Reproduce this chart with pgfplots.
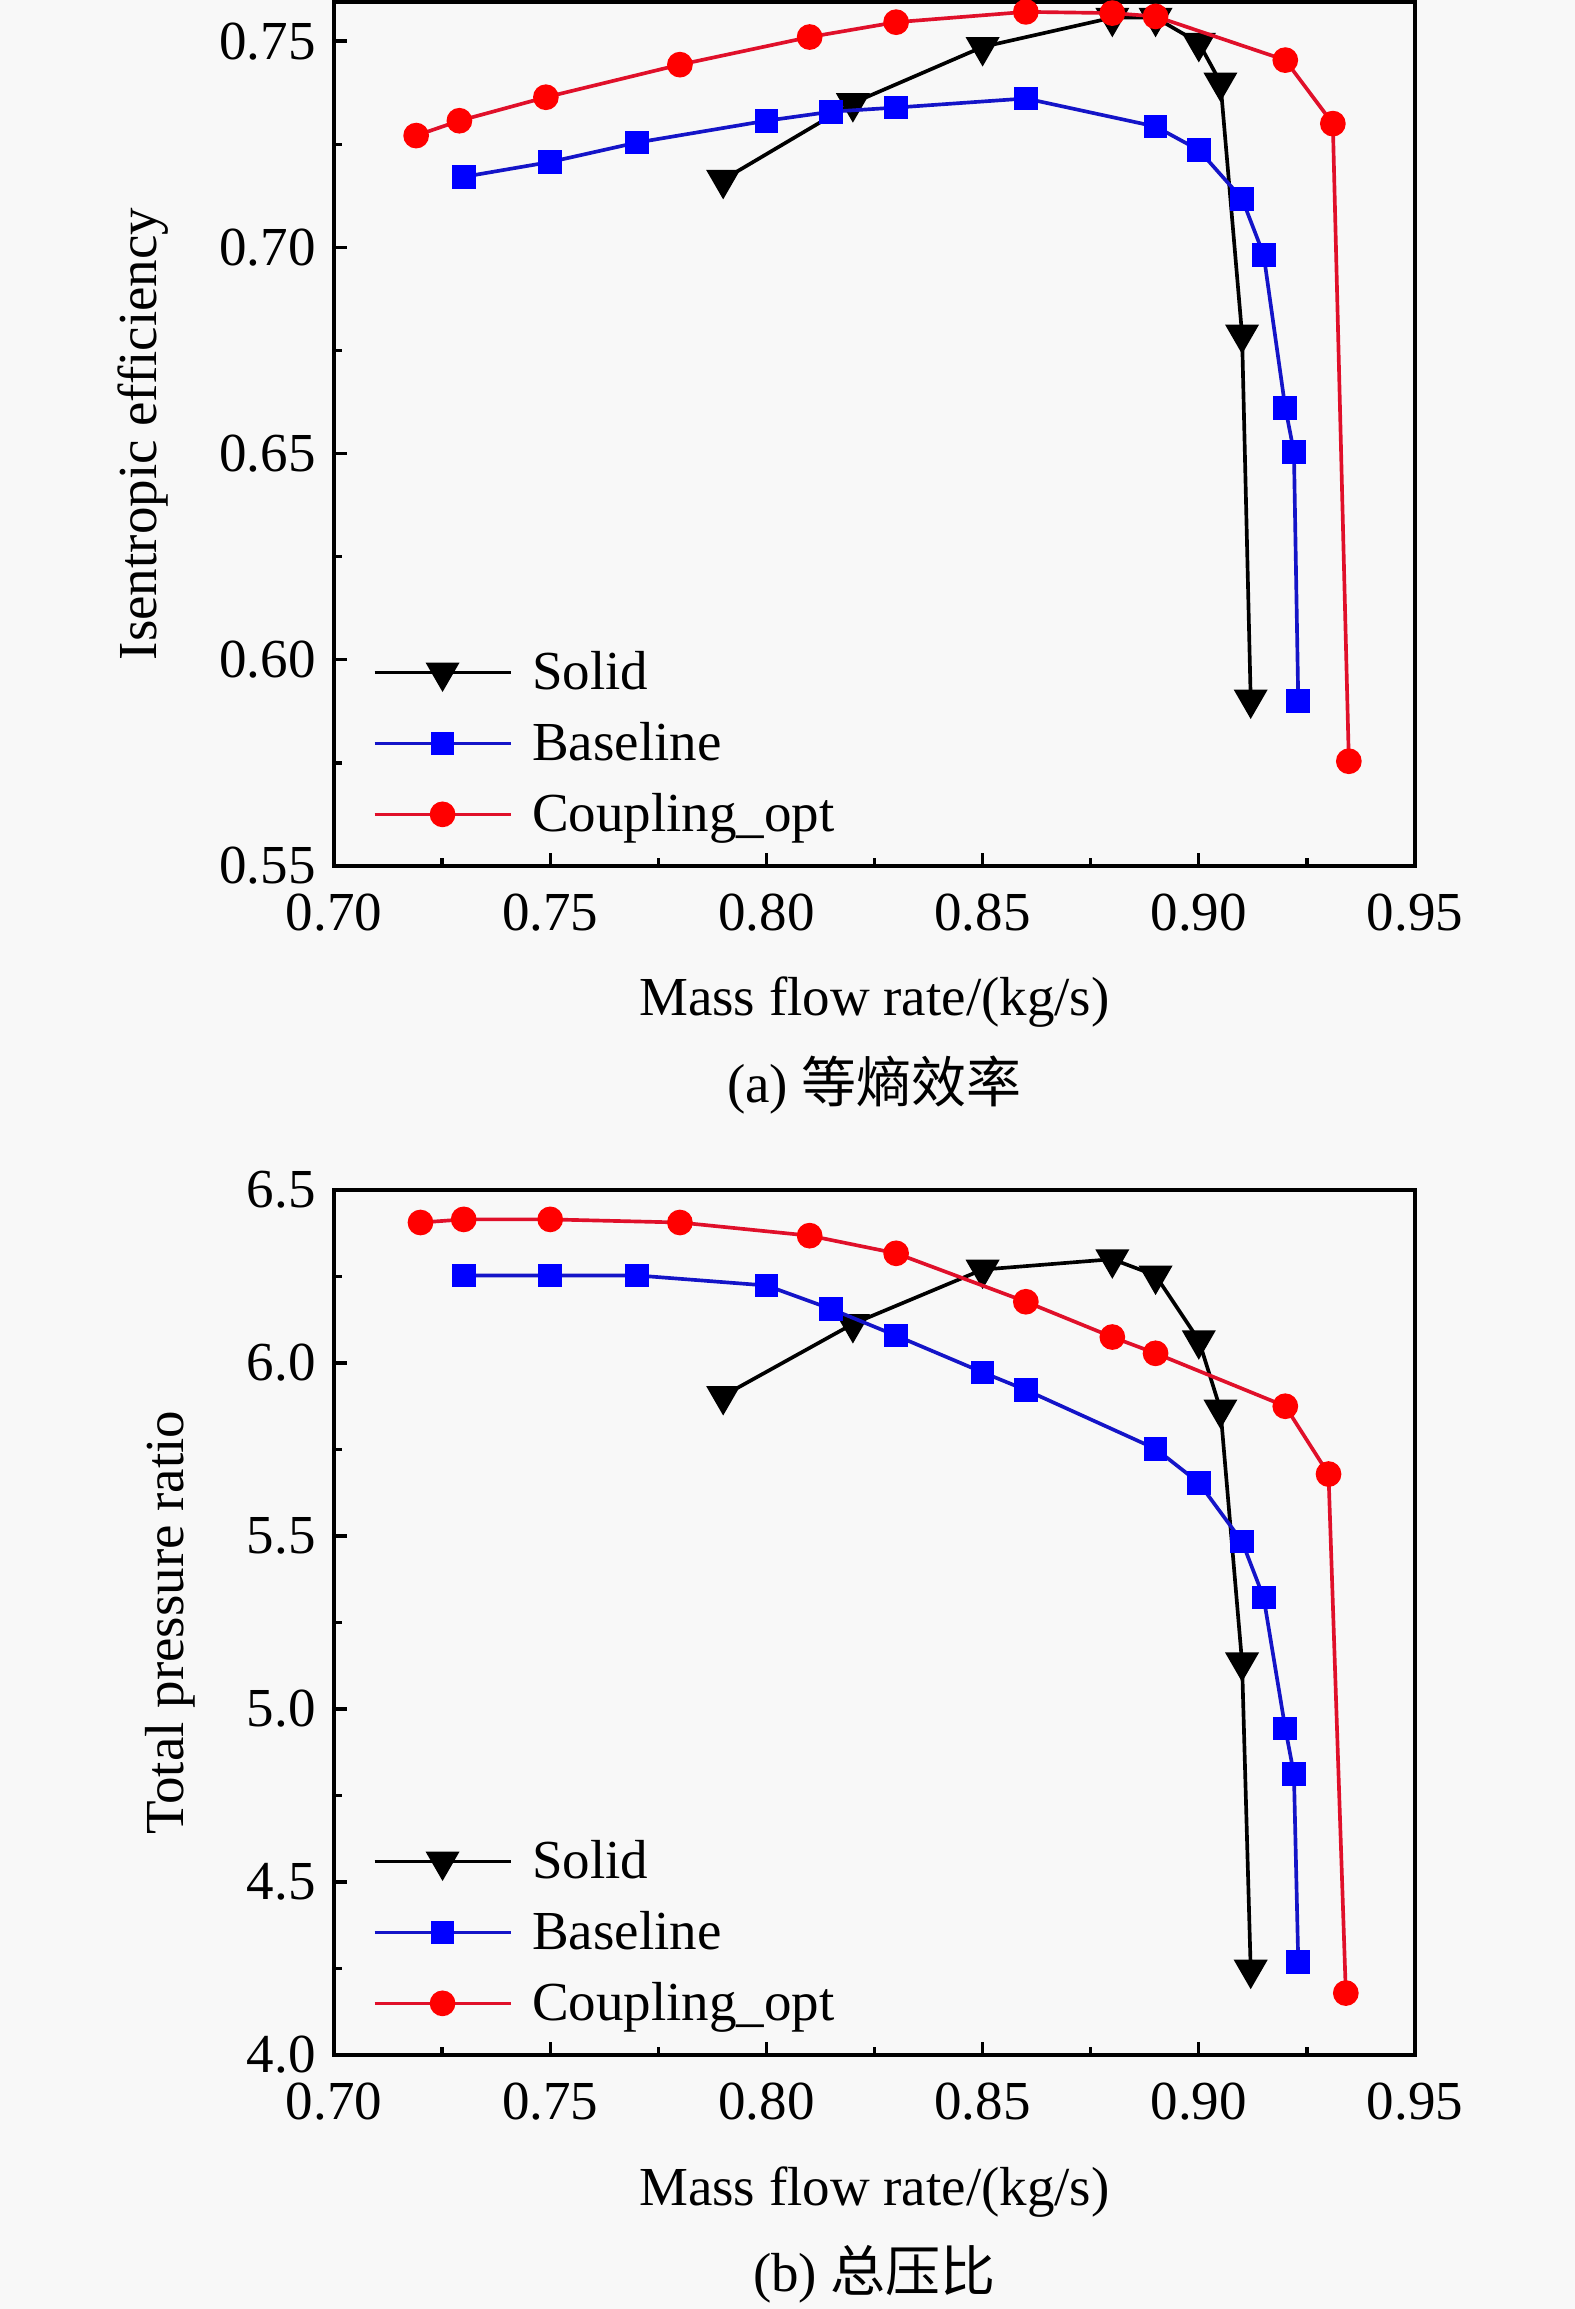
\documentclass[border=0pt]{standalone}
\usepackage{fontspec}
\setmainfont{Liberation Serif}
\newfontfamily\cjk{Noto Sans CJK SC}
\usepackage{pgfplots}
\pgfplotsset{compat=1.18}
\definecolor{bgc}{HTML}{F8F8F8}
\definecolor{myred}{HTML}{FF0000}
\definecolor{redline}{HTML}{E0102A}
\definecolor{myblue}{HTML}{0000FF}
\definecolor{blueline}{HTML}{1414C8}
\newcommand{\fs}{\fontsize{16.5}{19}\selectfont}
\pgfplotsset{
  legend image code/.code={%
    \draw[mark repeat=2,mark phase=2,#1] plot coordinates {(0pt,0pt)(20.4pt,0pt)(40.8pt,0pt)};
    \path (44.9pt,0pt);},
  myaxis/.style={
    scale only axis, width=324.3pt, height=259.2pt,
    clip mode=individual,
    xmin=0.70, xmax=0.95,
    xtick={0.70,0.75,0.80,0.85,0.90,0.95},
    minor x tick num=1, minor y tick num=1,
    tick align=inside, tick pos=left,
    major tick length=4pt, minor tick length=2.5pt,
    axis line style={line width=1.2pt},
    every tick/.style={black, line width=1pt},
    tick label style={font=\fs},
    label style={font=\fs},
    /pgf/number format/assume math mode=true,
    xticklabel style={/pgf/number format/.cd,fixed,fixed zerofill,precision=2,/tikz/.cd,yshift=-4.8pt},
    xlabel={Mass flow rate/(kg/s)},
    xlabel style={at={(axis description cs:0.5,-0.158)}, anchor=center},
    legend cell align=left,
    legend style={draw=none, fill=none, inner xsep=0pt, inner ysep=0pt,
      at={(axis description cs:0.0352,0.0179)}, anchor=south west, font=\fs,
      nodes={inner xsep=1.85pt, inner ysep=1.85pt, text height=14pt, text depth=3.6pt}},
  },
  solid/.style={black, line width=1.1pt, mark=triangle*, mark size=4.8pt, mark options={solid, fill=black}},
  base/.style={blueline, line width=1.1pt, mark=square*, mark size=3pt, mark options={solid, fill=myblue, draw=myblue}},
  coup/.style={redline, line width=1.1pt, mark=*, mark size=3.3pt, mark options={solid, fill=myred, draw=myred}},
}
\begin{document}
\begin{tikzpicture}
\path[use as bounding box, fill=bgc] (0,0) rectangle (472.5pt,692.7pt);
\begin{axis}[myaxis, at={(100.2pt,432.9pt)}, anchor=south west,
  ymin=0.55, ymax=0.7595,
  ytick={0.55,0.60,0.65,0.70,0.75},
  yticklabel style={/pgf/number format/.cd,fixed,fixed zerofill,precision=2,/tikz/.cd,xshift=-2pt},
  ylabel={Isentropic efficiency},
  ylabel style={at={(axis description cs:-0.1767,0.5)}, anchor=center},
]
\addplot[solid, mark=triangle*, every mark/.append style={rotate=180}] coordinates {
(0.790,0.7164) (0.820,0.7350) (0.850,0.7486) (0.880,0.7557) (0.890,0.7557)
(0.900,0.7496) (0.905,0.7400) (0.910,0.6789) (0.912,0.5904)};
\addlegendentry{Solid}
\addplot[base] coordinates {
(0.730,0.7171) (0.750,0.7207) (0.770,0.7254) (0.800,0.7307) (0.815,0.7329)
(0.830,0.7339) (0.860,0.7361) (0.890,0.7293) (0.900,0.7236) (0.910,0.7118)
(0.915,0.6982) (0.920,0.6611) (0.922,0.6504) (0.923,0.5900)};
\addlegendentry{Baseline}
\addplot[coup] coordinates {
(0.719,0.7271) (0.729,0.7307) (0.749,0.7364) (0.780,0.7443) (0.810,0.7510)
(0.830,0.7546) (0.860,0.7571) (0.880,0.7568) (0.890,0.7560) (0.920,0.7454)
(0.931,0.7300) (0.9347,0.5754)};
\addlegendentry{Coupling\_opt}
\node[font=\fs] at (axis description cs:0.5,-0.2535) {(a) {\cjk 等熵效率}};
\end{axis}
\begin{axis}[myaxis, at={(100.2pt,76.2pt)}, anchor=south west,
  height=259.5pt,
  ymin=4.0, ymax=6.5,
  ytick={4.0,4.5,5.0,5.5,6.0,6.5},
  yticklabel style={/pgf/number format/.cd,fixed,fixed zerofill,precision=1,/tikz/.cd,xshift=-2pt},
  ylabel={Total pressure ratio},
  ylabel style={at={(axis description cs:-0.1514,0.5)}, anchor=center},
]
\addplot[solid, mark=triangle*, every mark/.append style={rotate=180}] coordinates {
(0.790,5.905) (0.820,6.113) (0.850,6.270) (0.880,6.300) (0.890,6.253)
(0.900,6.066) (0.905,5.866) (0.910,5.135) (0.912,4.247)};
\addlegendentry{Solid}
\addplot[base] coordinates {
(0.730,6.253) (0.750,6.253) (0.770,6.253) (0.800,6.224) (0.815,6.156)
(0.830,6.079) (0.850,5.973) (0.860,5.922) (0.890,5.752) (0.900,5.654)
(0.910,5.484) (0.915,5.322) (0.920,4.944) (0.922,4.812) (0.923,4.268)};
\addlegendentry{Baseline}
\addplot[coup] coordinates {
(0.720,6.406) (0.730,6.415) (0.750,6.415) (0.780,6.406) (0.810,6.368)
(0.830,6.317) (0.860,6.177) (0.880,6.075) (0.890,6.028) (0.920,5.875)
(0.930,5.679) (0.934,4.179)};
\addlegendentry{Coupling\_opt}
\node[font=\fs] at (axis description cs:0.5,-0.2535) {(b) {\cjk 总压比}};
\end{axis}
\end{tikzpicture}
\end{document}
